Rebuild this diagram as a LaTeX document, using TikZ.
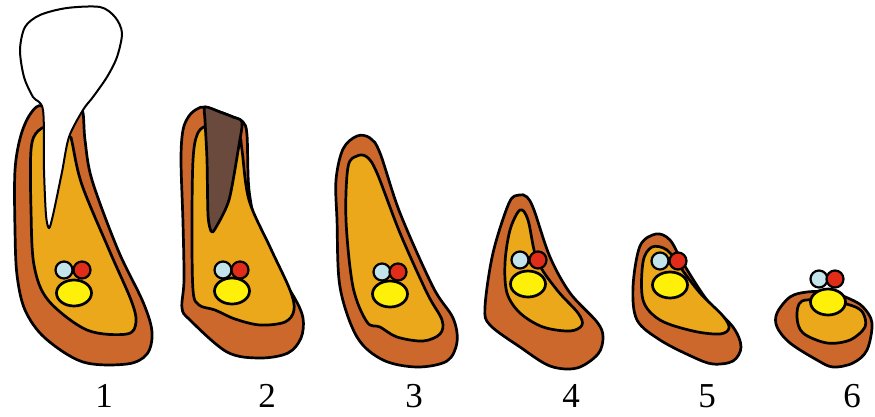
\documentclass[tikz,border=0pt]{standalone}
\usepackage{fontspec}
\setmainfont{Liberation Serif}
\usetikzlibrary{shapes.geometric}
\definecolor{socket}{RGB}{204,104,44}
\definecolor{pulp}{RGB}{234,168,26}
\definecolor{nerve}{RGB}{255,240,10}
\definecolor{vein}{RGB}{196,228,236}
\definecolor{artery}{RGB}{226,44,26}
\definecolor{stump}{RGB}{106,74,60}
\begin{document}
\begin{tikzpicture}[x=1pt,y=-1pt,
  outline/.style={draw=black,line width=2.7pt,line join=round},
  outer/.style={outline,fill=socket},
  inner/.style={outline,fill=pulp},
  enamel/.style={outline,line width=2pt,fill=white},
  crownrest/.style={outline,fill=stump},
  vessel/.style={outline,line width=2.2pt,circle,inner sep=0pt,minimum size=17pt},
  vblue/.style={vessel,fill=vein},
  vred/.style={vessel,fill=artery},
  nervebox/.style={outline,ellipse,fill=nerve,inner sep=0pt,minimum width=35pt,minimum height=26pt},
  stage/.style={font=\fontsize{35}{35}\selectfont,inner sep=0pt}]
\useasboundingbox (0,0) rectangle (875,416);

% stage 1: tooth still in place
\draw[outer] plot[smooth cycle,tension=0.55] coordinates {(43,106) (31,113) (21,135) (15,170) (15,230) (17,275) (25,310) (45,338) (83,362) (127,364) (147,354) (152,332) (143,302) (118,250) (92,180) (85,140) (82,110) (70,125)};
\draw[inner] plot[smooth cycle,tension=0.55] coordinates {(38,131) (31,150) (31,210) (34,265) (48,300) (87,330) (127,334) (136,322) (131,300) (110,252) (82,185) (72,142) (70,137) (55,125)};
\draw[enamel] plot[smooth cycle,tension=0.5] coordinates {(43,110) (44,170) (46,215) (49,228) (53,215) (62,172) (69,137) (83,110) (93,97) (107,77) (117,57) (122,33) (115,17) (100,7) (67,8) (40,15) (25,27) (20,50) (24,77) (33,97)};
\node[vblue] (b1) at (64,270) {};
\node[vred] (r1) at (82,270) {};
\node[nervebox] (n1) at (74,293) {};
\node[stage] (l1) at (104,396) {1};

% stage 2: crown remnant in the socket
\draw[outer] plot[smooth cycle,tension=0.55] coordinates {(189,116) (197,109) (205,107) (220,112) (233,117) (243,122) (247,135) (249,190) (258,233) (273,265) (294,297) (303,318) (301,338) (288,353) (260,358) (227,352) (190,320) (182,308) (184,280) (183,223) (181,160) (183,130)};
\draw[inner] plot[smooth cycle,tension=0.55] coordinates {(206,126) (197,135) (193,160) (192,223) (193,290) (199,305) (215,310) (235,319) (260,325) (285,322) (294,310) (290,290) (270,247) (249,200) (242,150) (239,135) (225,125)};
\draw[crownrest] plot[smooth cycle,tension=0.45] coordinates {(205,107) (220,112) (233,117) (242,122) (239,145) (229,200) (215,229) (211,231) (208,215) (207,160) (205,120)};
\node[vblue] (b2) at (223,270) {};
\node[vred] (r2) at (240,270) {};
\node[nervebox] (n2) at (232,291) {};
\node[stage] (l2) at (267,396) {2};

% stage 3
\draw[outer] plot[smooth cycle,tension=0.55] coordinates {(357,136) (343,149) (336,180) (337,220) (340,287) (357,337) (383,360) (417,367) (447,361) (457,342) (453,318) (433,287) (400,213) (380,153) (370,138)};
\draw[inner] plot[smooth cycle,tension=0.55] coordinates {(357,156) (348,167) (346,220) (353,287) (367,322) (380,327) (397,337) (423,341) (440,334) (442,320) (427,293) (400,233) (377,173) (367,157)};
\node[vblue] (b3) at (382,272) {};
\node[vred] (r3) at (398,272) {};
\node[nervebox] (n3) at (390,294) {};
\node[stage] (l3) at (414,396) {3};

% stage 4
\draw[outer] plot[smooth cycle,tension=0.55] coordinates {(519,195) (509,203) (493,253) (485,307) (490,325) (520,347) (550,366) (577,368) (598,354) (603,337) (597,322) (570,293) (550,257) (534,210) (527,197)};
\draw[inner] plot[smooth cycle,tension=0.55] coordinates {(520,210) (510,230) (505,263) (507,293) (520,313) (543,327) (570,331) (582,325) (578,313) (557,290) (537,260) (528,220)};
\node[vblue] (b4) at (520,260) {};
\node[vred] (r4) at (538,260) {};
\node[nervebox] (n4) at (528,284) {};
\node[stage] (l4) at (571,396) {4};

% stage 5
\draw[outer] plot[smooth cycle,tension=0.55] coordinates {(656,234) (640,246) (633,287) (637,320) (660,340) (693,357) (713,364) (733,361) (741,347) (733,327) (707,300) (683,263) (670,240)};
\draw[inner] plot[smooth cycle,tension=0.55] coordinates {(652,247) (643,262) (643,300) (660,320) (693,331) (720,334) (729,328) (723,316) (700,293) (680,267) (667,250)};
\node[vblue] (b5) at (660,261) {};
\node[vred] (r5) at (678,261) {};
\node[nervebox] (n5) at (670,285) {};
\node[stage] (l5) at (707,396) {5};

% stage 6
\draw[outer] plot[smooth cycle,tension=0.55] coordinates {(777,313) (790,297) (807,292) (830,292) (850,299) (863,307) (872,323) (867,350) (853,363) (833,367) (817,360) (790,343) (777,327)};
\draw[inner] plot[smooth cycle,tension=0.55] coordinates {(802,301) (797,317) (803,333) (827,343) (850,340) (865,327) (863,313) (853,306) (830,301)};
\node[vblue] (b6) at (819,279) {};
\node[vred] (r6) at (835,279) {};
\node[nervebox] (n6) at (828,302) {};
\node[stage] (l6) at (852,396) {6};
\end{tikzpicture}
\end{document}
